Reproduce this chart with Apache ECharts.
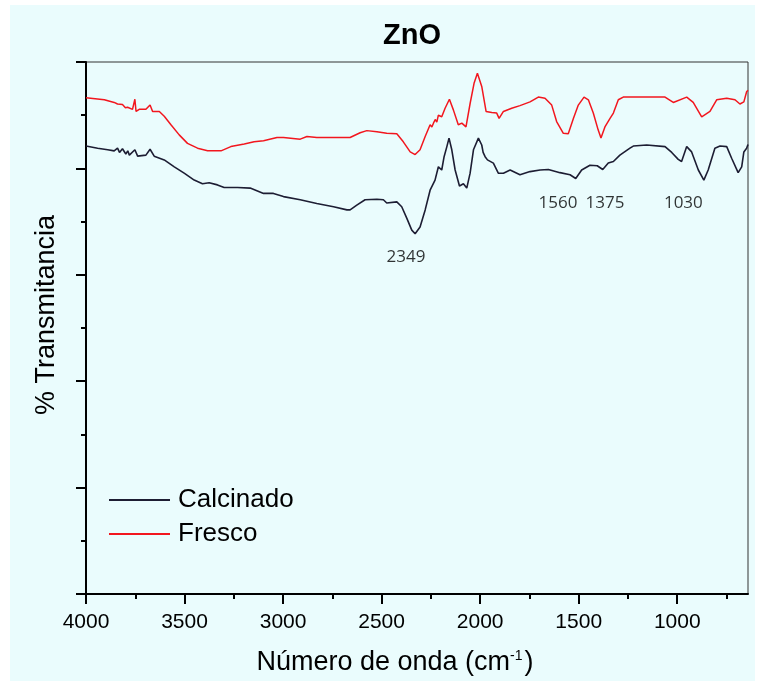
<!DOCTYPE html>
<html>
<head>
<meta charset="utf-8">
<script src="https://cdn.jsdelivr.net/npm/echarts@6/dist/echarts.min.js"></script>
<style>
  html, body { margin: 0; padding: 0; background: #ffffff; }
  #panel { position: absolute; left: 10px; top: 5px; width: 745px; height: 676px; background: #eafcfd; }
  #chart { position: absolute; left: 0; top: 0; width: 759px; height: 683px; }
</style>
</head>
<body>
<div id="panel"></div>
<div id="chart"></div>
<script>
// FTIR spectra of ZnO: wavenumber (cm-1) vs. transmittance (arbitrary offset units)
const fresco = [
  [4000, 9.33], [3907, 9.29], [3857, 9.24], [3840, 9.21], [3815, 9.20], [3800, 9.14], [3789, 9.15],
  [3764, 9.11], [3752, 9.30], [3746, 9.07], [3730, 9.11], [3696, 9.11], [3675, 9.19],
  [3662, 9.07], [3628, 9.07], [3603, 8.98], [3569, 8.82], [3527, 8.63], [3485, 8.47],
  [3434, 8.38], [3383, 8.33], [3315, 8.33], [3265, 8.41], [3197, 8.46], [3147, 8.50],
  [3099, 8.52], [3031, 8.58], [2998, 8.58], [2913, 8.55], [2879, 8.60], [2829, 8.58],
  [2660, 8.58], [2609, 8.67], [2575, 8.71], [2524, 8.69], [2474, 8.66], [2423, 8.65],
  [2390, 8.50], [2355, 8.31], [2330, 8.26], [2305, 8.35], [2279, 8.60], [2254, 8.82],
  [2245, 8.78], [2237, 8.85], [2228, 8.92], [2220, 8.87], [2212, 9.00], [2195, 8.97],
  [2178, 9.13], [2156, 9.30], [2136, 9.10], [2111, 8.82], [2093, 8.85], [2072, 8.78],
  [2051, 9.22], [2031, 9.60], [2014, 9.79], [1992, 9.54], [1970, 9.07], [1941, 9.05],
  [1916, 9.04], [1904, 8.94], [1882, 9.07], [1840, 9.13], [1798, 9.18], [1747, 9.25],
  [1705, 9.34], [1671, 9.32], [1637, 9.19], [1612, 8.88], [1578, 8.66], [1553, 8.65],
  [1527, 8.94], [1502, 9.19], [1473, 9.34], [1451, 9.29], [1426, 9.04], [1401, 8.72],
  [1387, 8.57], [1367, 8.78], [1341, 8.94], [1324, 9.04], [1299, 9.29], [1274, 9.34],
  [1240, 9.34], [1062, 9.34], [1020, 9.24], [952, 9.34], [919, 9.24], [876, 8.97],
  [834, 9.07], [800, 9.29], [749, 9.32], [707, 9.29], [682, 9.21], [662, 9.25],
  [648, 9.44], [641, 9.47]
];

const calcinado = [
  [4000, 8.42], [3941, 8.38], [3890, 8.35], [3857, 8.33], [3840, 8.38], [3830, 8.30],
  [3822, 8.28], [3815, 8.37], [3806, 8.35], [3798, 8.27], [3788, 8.33], [3780, 8.25],
  [3752, 8.35], [3738, 8.23], [3696, 8.25], [3675, 8.36], [3654, 8.23], [3603, 8.16],
  [3552, 8.03], [3502, 7.91], [3451, 7.78], [3409, 7.71], [3375, 7.73], [3333, 7.69],
  [3299, 7.64], [3231, 7.64], [3167, 7.63], [3099, 7.53], [3049, 7.53], [2998, 7.47],
  [2913, 7.41], [2829, 7.34], [2744, 7.28], [2676, 7.22], [2660, 7.22], [2626, 7.31],
  [2584, 7.41], [2524, 7.42], [2491, 7.41], [2474, 7.35], [2423, 7.37], [2398, 7.28],
  [2372, 7.06], [2347, 6.84], [2330, 6.77], [2305, 6.90], [2279, 7.22], [2254, 7.59],
  [2229, 7.78], [2212, 8.03], [2195, 7.97], [2183, 8.22], [2169, 8.41], [2158, 8.57],
  [2144, 8.35], [2127, 7.97], [2105, 7.67], [2085, 7.71], [2068, 7.63], [2051, 7.91],
  [2034, 8.35], [2009, 8.57], [1992, 8.44], [1985, 8.30], [1975, 8.22], [1963, 8.16],
  [1933, 8.10], [1908, 7.91], [1882, 7.91], [1848, 7.97], [1798, 7.88], [1747, 7.94],
  [1696, 7.97], [1654, 7.98], [1595, 7.92], [1544, 7.88], [1515, 7.81], [1485, 7.97],
  [1443, 8.06], [1406, 8.05], [1378, 7.98], [1350, 8.10], [1324, 8.13], [1291, 8.25],
  [1240, 8.38], [1223, 8.42], [1155, 8.44], [1062, 8.41], [1028, 8.30], [995, 8.17],
  [978, 8.13], [952, 8.41], [927, 8.31], [893, 7.97], [865, 7.78], [843, 7.97],
  [809, 8.38], [783, 8.42], [749, 8.41], [724, 8.19], [691, 7.92], [673, 8.03],
  [662, 8.31], [648, 8.38], [641, 8.45]
];

// Band assignments written on the plot
const peakLabels = ['2349', '1560', '1375', '1030'];
const peakLabelAnchors = [[2376, 6.34], [1605, 7.35], [1367, 7.35], [969, 7.35]];

const xMajorTicks = [1000, 1500, 2000, 2500, 3000, 3500, 4000];
const xMinorTicks = [750, 1250, 1750, 2250, 2750, 3250, 3750];

const chart = echarts.init(document.getElementById('chart'), null, { renderer: 'canvas' });

const sansFont = '"Liberation Sans", Arial, sans-serif';

chart.setOption({
  backgroundColor: 'transparent',
  animation: false,
  title: {
    text: 'ZnO',
    left: 378,
    top: 16,
    textStyle: { fontFamily: sansFont, fontSize: 29, fontWeight: 'bold', color: '#000' }
  },
  legend: {
    orient: 'vertical',
    left: 104,
    top: 481,
    icon: 'rect',
    itemWidth: 61,
    itemHeight: 2,
    itemGap: 6,
    data: ['Calcinado', 'Fresco'],
    textStyle: { fontFamily: sansFont, fontSize: 26, color: '#000', lineHeight: 28, padding: [0, 0, 0, 3] }
  },
  grid: {
    left: 86, right: 11, top: 62, bottom: 89,
    show: true,
    borderColor: '#333',
    borderWidth: 1,
    backgroundColor: 'transparent'
  },
  xAxis: [
    {
      type: 'value',
      inverse: true,
      min: 641,
      max: 4000,
      splitLine: { show: false },
      axisLine: { show: true, lineStyle: { color: '#000', width: 2 } },
      axisTick: { show: true, length: 10, inside: false, customValues: xMajorTicks, lineStyle: { color: '#000', width: 2 } },
      axisLabel: {
        customValues: xMajorTicks,
        formatter: (v) => String(v),
        margin: 18,
        fontFamily: sansFont,
        fontSize: 21,
        color: '#000'
      }
    },
    {
      type: 'value',
      inverse: true,
      min: 641,
      max: 4000,
      position: 'bottom',
      splitLine: { show: false },
      axisLine: { show: false },
      axisTick: { show: true, length: 5, customValues: xMinorTicks, lineStyle: { color: '#000', width: 2 } },
      axisLabel: { show: false }
    }
  ],
  yAxis: {
    type: 'value',
    min: 0,
    max: 10,
    interval: 2,
    splitLine: { show: false },
    axisLine: { show: true, lineStyle: { color: '#000', width: 2 } },
    axisTick: { show: true, length: 10, lineStyle: { color: '#000', width: 2 } },
    minorTick: { show: true, splitNumber: 2, length: 5, lineStyle: { color: '#000', width: 2 } },
    axisLabel: { show: false }
  },
  graphic: [
    {
      type: 'text',
      x: 395,
      y: 663,
      style: {
        text: 'Número de onda (cm{sup|-1})',
        fontFamily: sansFont,
        fontSize: 27,
        fill: '#000',
        align: 'center',
        verticalAlign: 'middle',
        rich: {
          sup: { fontFamily: sansFont, fontSize: 14, verticalAlign: 'top', padding: [0, 2, 12, 0] }
        }
      }
    },
    {
      type: 'text',
      x: 47,
      y: 315,
      rotation: Math.PI / 2,
      style: {
        text: '% Transmitancia',
        fontFamily: sansFont,
        fontSize: 27,
        fill: '#000',
        align: 'center',
        verticalAlign: 'middle'
      }
    }
  ],
  series: [
    {
      name: 'Calcinado',
      type: 'line',
      data: calcinado,
      symbol: 'none',
      lineStyle: { color: '#1d1d33', width: 1.6 },
      itemStyle: { color: '#1d1d33' },
      z: 3
    },
    {
      name: 'Fresco',
      type: 'line',
      data: fresco,
      symbol: 'none',
      lineStyle: { color: '#f2161e', width: 1.5 },
      itemStyle: { color: '#f2161e' },
      z: 2
    },
    {
      name: 'Bandas',
      type: 'scatter',
      symbol: 'circle',
      symbolSize: 1,
      silent: true,
      itemStyle: { color: 'rgba(0,0,0,0)' },
      data: peakLabelAnchors.map((p, i) => ({ value: p, label: { formatter: peakLabels[i] } })),
      label: {
        show: true,
        position: 'inside',
        fontFamily: '"Open Sans", "Noto Sans", sans-serif',
        fontSize: 17,
        color: '#000'
      }
    }
  ]
});
</script>
</body>
</html>
